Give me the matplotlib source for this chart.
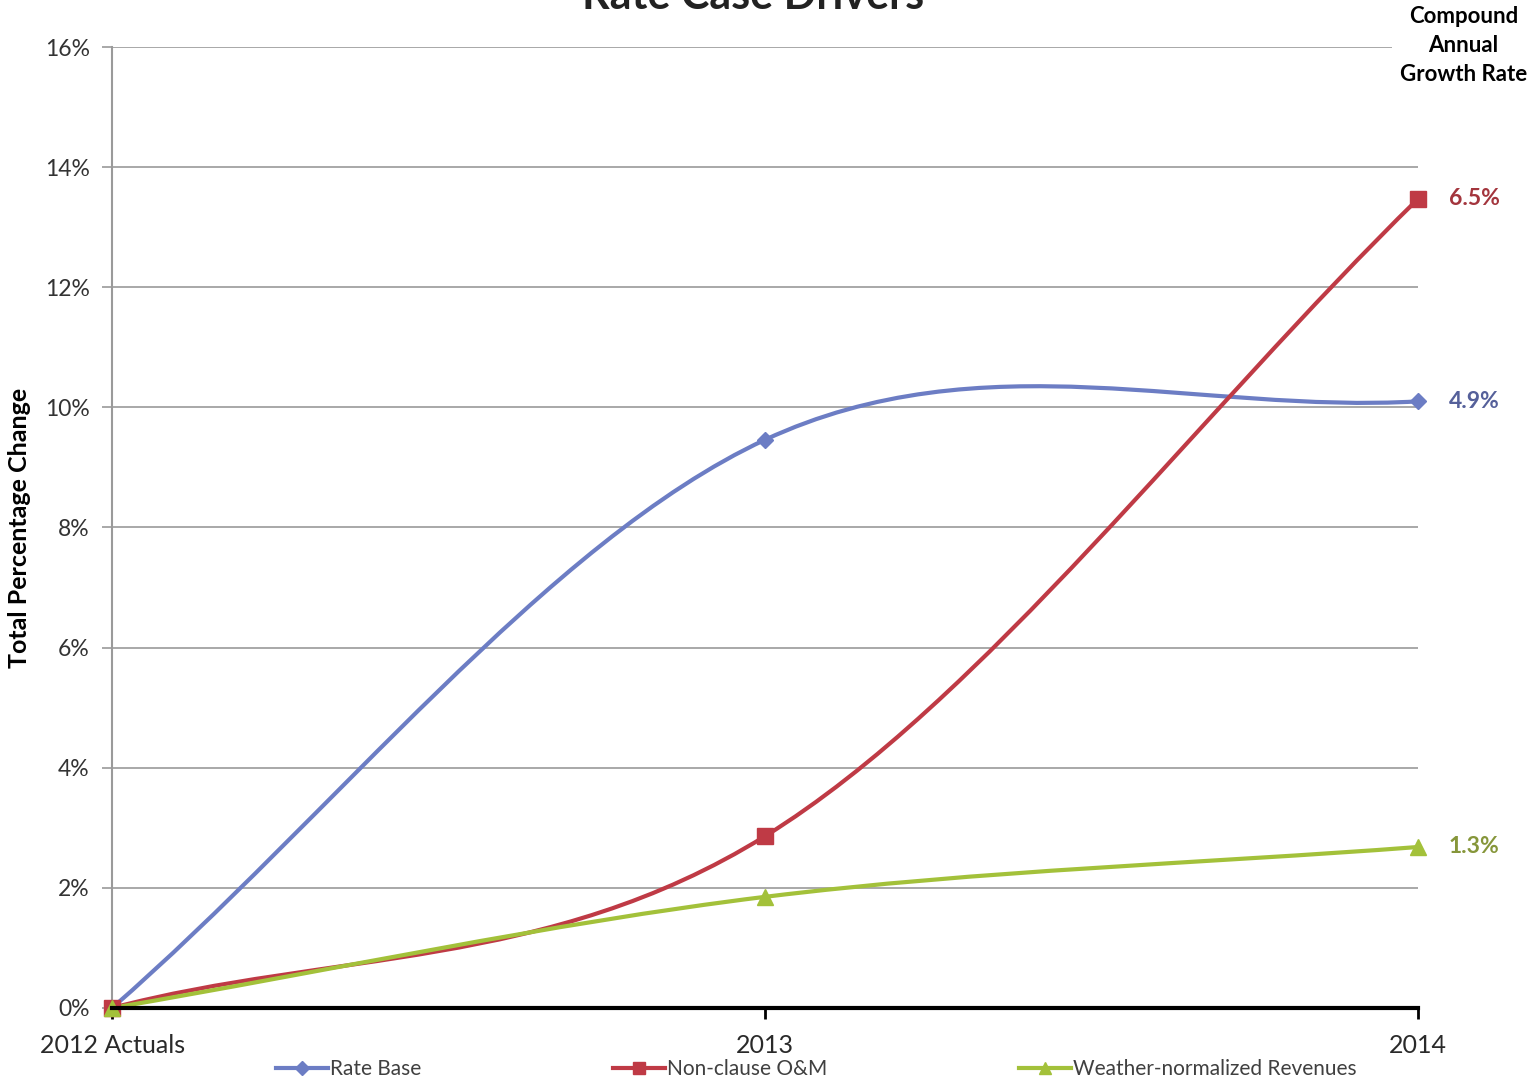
import matplotlib
matplotlib.use("Agg")
import matplotlib.pyplot as plt
from matplotlib.path import Path
from matplotlib.patches import PathPatch
from matplotlib.lines import Line2D
import numpy as np

plt.rcParams['font.family'] = ['Lato', 'DejaVu Sans']

years = ["2012 Actuals", "2013", "2014"]
rate_base = [0.0, 9.46, 10.10]
non_clause_om = [0.0, 2.86, 13.47]
weather_rev = [0.0, 1.85, 2.68]
cagr_labels = ["4.9%", "6.5%", "1.3%"]
series_names = ["Rate Base", "Non-clause O&M", "Weather-normalized Revenues"]

colors = ["#6C7DC4", "#BF3A45", "#A3C13A"]
label_colors = ["#55609A", "#A3353D", "#86963A"]
markers = ["D", "s", "^"]
msizes = [8, 11, 11]


def smooth_path(xs, ys):
    # cubic bezier through the points, excel-style smoothing
    pts = np.column_stack([xs, ys]).astype(float)
    n = len(pts)
    verts = [pts[0]]
    codes = [Path.MOVETO]
    for i in range(n - 1):
        p0 = pts[i - 1] if i > 0 else pts[i]
        p1 = pts[i]
        p2 = pts[i + 1]
        p3 = pts[i + 2] if i + 2 < n else pts[i + 1]
        t1 = (p2 - p0) / 6 if i > 0 else (p2 - p1) / 3
        t2 = (p3 - p1) / 6 if i + 2 < n else (p2 - p1) / 3
        verts += [p1 + t1, p2 - t2, p2]
        codes += [Path.CURVE4] * 3
    return Path(verts, codes)


fig = plt.figure(figsize=(15.31, 10.83), dpi=100)
ax = fig.add_axes([0.0732, 0.0693, 0.853, 0.8873])

x = np.arange(len(years))
for vals, c, m, ms in zip([rate_base, non_clause_om, weather_rev], colors, markers, msizes):
    ax.add_patch(PathPatch(smooth_path(x, vals), facecolor="none", edgecolor=c,
                           lw=3, zorder=3, clip_on=False))
    ax.plot(x, vals, linestyle="none", marker=m, color=c, ms=ms, zorder=4, clip_on=False)

ax.set_xlim(0, 2)
ax.set_ylim(0, 16)
ax.set_yticks(np.arange(0, 17, 2))
ax.set_yticklabels([f"{v}%" for v in range(0, 17, 2)])
ax.set_xticks(x)
ax.set_xticklabels(years)
ax.yaxis.grid(True, color="#9A9A9A", lw=1.2)
ax.set_axisbelow(True)

for s in ["top", "right"]:
    ax.spines[s].set_visible(False)
ax.spines["left"].set_color("#9A9A9A")
ax.spines["left"].set_linewidth(1.5)
ax.spines["bottom"].set_color("black")
ax.spines["bottom"].set_linewidth(3)
ax.spines["bottom"].set_zorder(5)

ax.tick_params(axis="y", length=7, color="#9A9A9A", width=1.2, pad=9,
               labelsize=16.5, labelcolor="#333333")
ax.tick_params(axis="x", length=8, color="black", width=2, pad=11,
               labelsize=18, labelcolor="#2A2A2A")

ax.set_ylabel("Total Percentage Change", fontsize=18, fontweight="bold",
              color="black", labelpad=10)

# growth rate labels at the right end
for vals, lab, lc in zip([rate_base, non_clause_om, weather_rev], cagr_labels, label_colors):
    ax.annotate(lab, xy=(2, vals[-1]), xytext=(22, 0), textcoords="offset points",
                va="center", ha="left", fontsize=16.5, fontweight="bold", color=lc,
                annotation_clip=False)

fig.text(0.956, 0.994, "Compound\nAnnual\nGrowth Rate", ha="center", va="top",
         fontsize=16, fontweight="bold", linespacing=1.45,
         bbox=dict(facecolor="white", edgecolor="none", pad=6), zorder=10)

fig.text(0.492, 1.004, "Rate Case Drivers", ha="center", va="center",
         fontsize=31, fontweight="bold", color="#222222")

handles = [Line2D([], [], color=c, marker=m, ms=ms * 0.85, lw=3)
           for c, m, ms in zip(colors, markers, msizes)]
fig.legend(handles, series_names, loc="center", bbox_to_anchor=(0.533, 0.013),
           ncol=3, frameon=False, fontsize=15, handlelength=2.5, handletextpad=0.1,
           columnspacing=9.2, labelcolor="#404040")

fig.savefig("out.png", dpi=100)
